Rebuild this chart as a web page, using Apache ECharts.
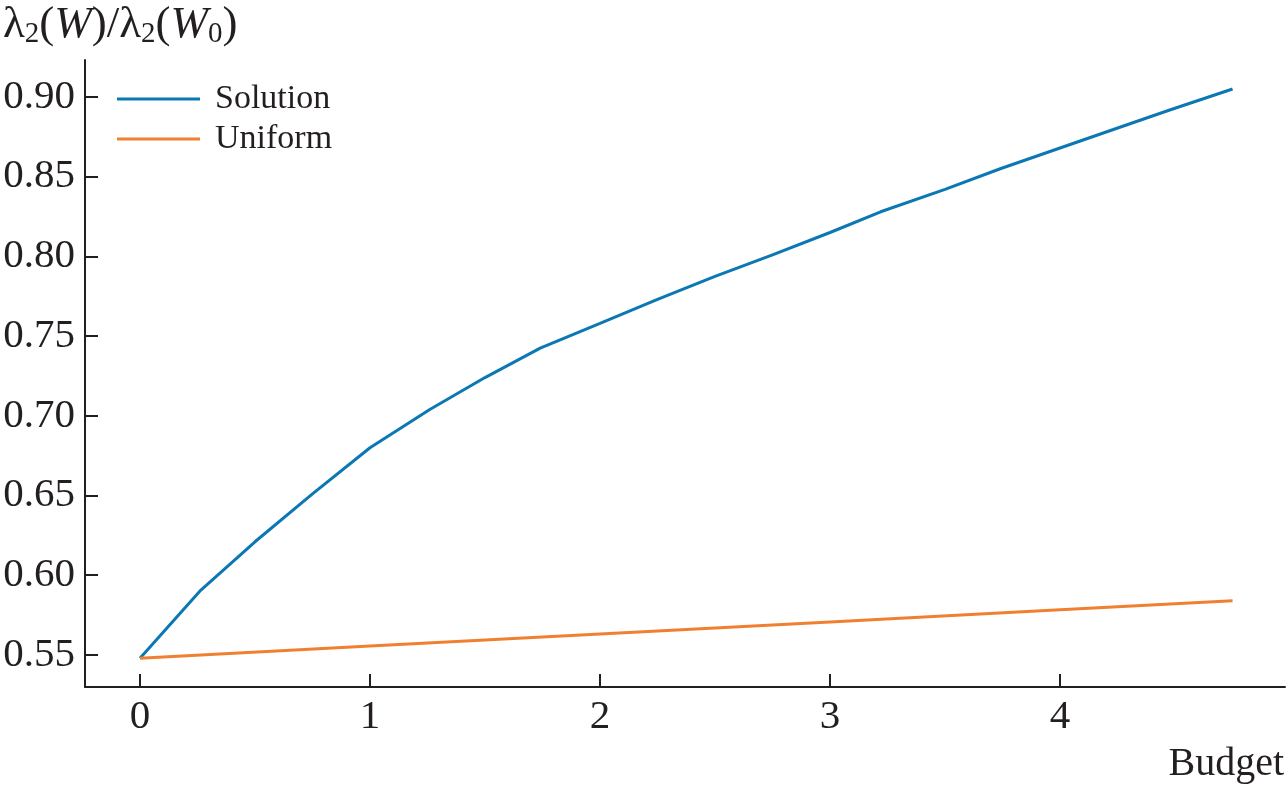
<!DOCTYPE html>
<html>
<head>
<meta charset="utf-8">
<script src="https://cdn.jsdelivr.net/npm/echarts@6/dist/echarts.min.js"></script>
<style>html,body{margin:0;padding:0;background:#fff}#c{width:1288px;height:788px}</style>
</head>
<body>
<div id="c"></div>
<script>
const solutionX = [0, 0.26, 0.5, 0.75, 1.0, 1.26, 1.5, 1.74, 2.0, 2.25, 2.5, 2.75, 3.0, 3.22, 3.5, 3.74, 4.0, 4.26, 4.48, 4.75];
const solutionY = [0.548, 0.590, 0.621, 0.651, 0.680, 0.704, 0.724, 0.7425, 0.758, 0.773, 0.7875, 0.801, 0.815, 0.828, 0.842, 0.855, 0.868, 0.881, 0.892, 0.905];
const uniformX = [0, 1, 2, 3, 4, 4.75];
const uniformY = [0.548, 0.5556, 0.5632, 0.5707, 0.5783, 0.584];
const xTicks = [0, 1, 2, 3, 4];
const yTicks = [0.55, 0.60, 0.65, 0.70, 0.75, 0.80, 0.85, 0.90];

const ink = '#231f20';
const font = 'Liberation Serif';
const chart = echarts.init(document.getElementById('c'), null, {renderer: 'canvas'});
chart.setOption({
  animation: false,
  backgroundColor: '#fff',
  title: [{
    left: 3, top: 2, padding: 0,
    text: '{a|λ}{s|2}{a|(}{i|W}{a|)/λ}{s|2}{a|(}{i|W}{s|0}{a|)}',
    textStyle: {
      fontWeight: 'normal',
      rich: {
        a: {fontFamily: font, fontSize: 45, fontWeight: 'normal', color: ink},
        i: {fontFamily: font, fontSize: 45, fontStyle: 'italic', fontWeight: 'normal', color: ink},
        s: {fontFamily: font, fontSize: 29, fontWeight: 'normal', color: ink, verticalAlign: 'bottom', padding: [18, 0, 0, 0]}
      }
    }
  }, {
    right: 4, top: 744, padding: 0,
    text: 'Budget',
    textStyle: {fontFamily: font, fontSize: 40, fontWeight: 'normal', color: ink}
  }],
  legend: {
    orient: 'vertical', left: 117, top: 82, padding: 0,
    icon: 'rect',
    itemWidth: 83, itemHeight: 3, itemGap: 6,
    textStyle: {fontFamily: font, fontSize: 34, color: ink, padding: [0, 0, 0, 10]},
    data: ['Solution', 'Uniform']
  },
  grid: {left: 85, right: 3, top: 60, bottom: 101, containLabel: false},
  xAxis: {
    type: 'value', min: -0.239, max: 4.978,
    axisLine: {onZero: false, lineStyle: {color: ink, width: 2}},
    axisTick: {inside: true, length: 13, lineStyle: {color: ink, width: 2}, customValues: xTicks},
    axisLabel: {customValues: xTicks, fontFamily: font, fontSize: 41, color: ink, margin: 10},
    splitLine: {show: false}
  },
  yAxis: {
    type: 'value', min: 0.5299, max: 0.9232,
    axisLine: {show: true, onZero: false, lineStyle: {color: ink, width: 2}},
    axisTick: {show: true, inside: true, length: 13, lineStyle: {color: ink, width: 2}, customValues: yTicks},
    axisLabel: {customValues: yTicks, fontFamily: font, fontSize: 41, color: ink, margin: 10,
      formatter: v => v.toFixed(2)},
    splitLine: {show: false}
  },
  series: [{
    name: 'Solution', type: 'line', showSymbol: false, symbol: 'none',
    lineStyle: {color: '#0b78b4', width: 3}, itemStyle: {color: '#0b78b4'},
    data: solutionX.map((x, i) => [x, solutionY[i]])
  }, {
    name: 'Uniform', type: 'line', showSymbol: false, symbol: 'none',
    lineStyle: {color: '#f08030', width: 3}, itemStyle: {color: '#f08030'},
    data: uniformX.map((x, i) => [x, uniformY[i]])
  }]
});
</script>
</body>
</html>
